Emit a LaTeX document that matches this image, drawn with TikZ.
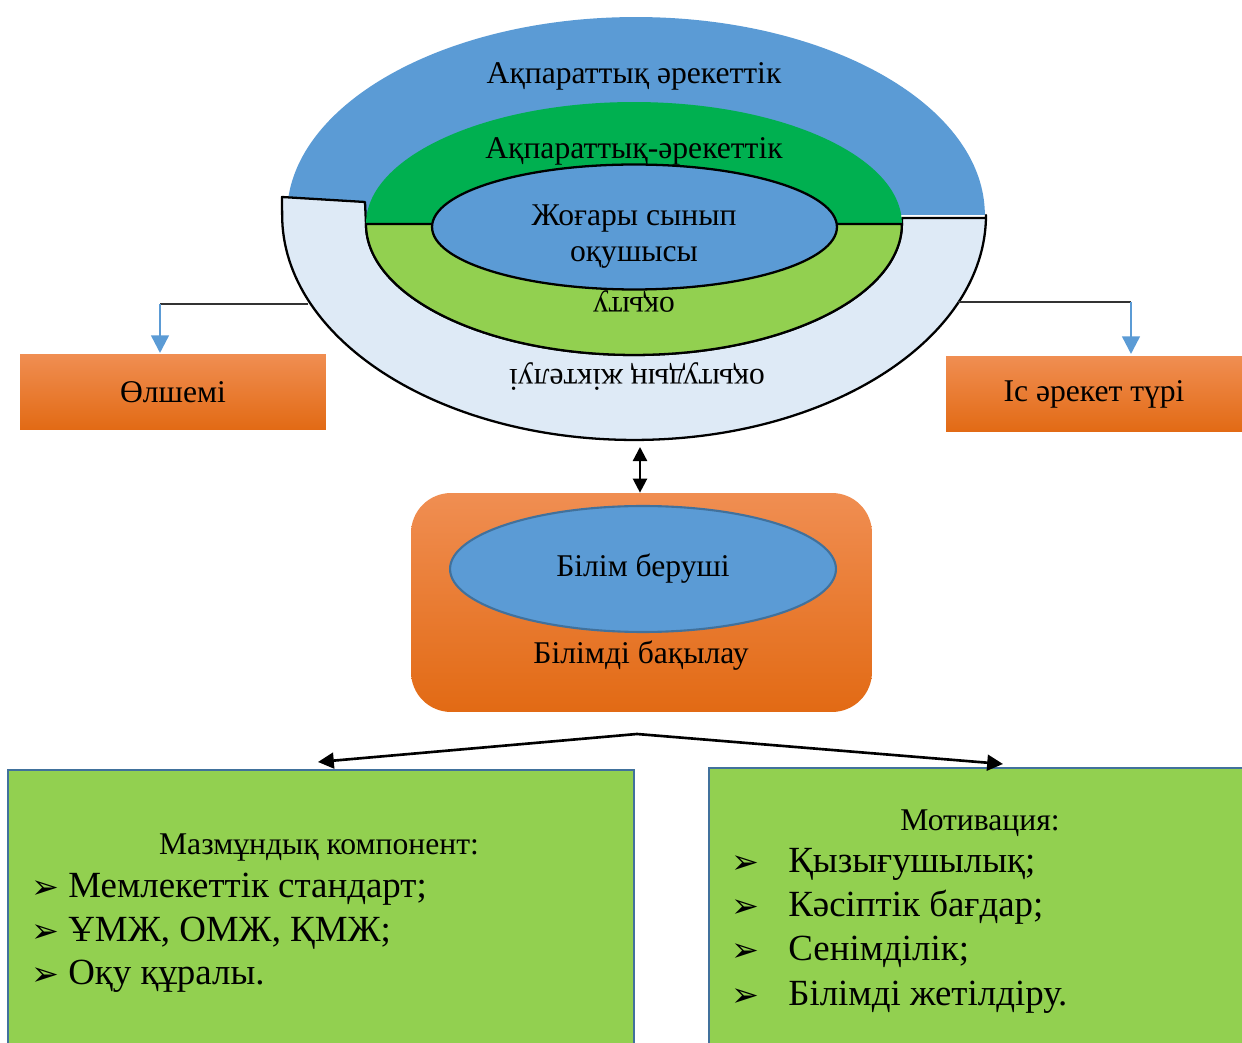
\documentclass[tikz,border=0pt]{standalone}
\usepackage{fontspec}
\setmainfont{Liberation Serif}
\newfontfamily\dvs{DejaVu Sans}
\usetikzlibrary{arrows.meta,shapes.geometric}
\definecolor{midblue}{RGB}{91,155,213}
\definecolor{paleblue}{RGB}{222,234,246}
\definecolor{dkgreen}{RGB}{0,176,80}
\definecolor{ltgreen}{RGB}{146,208,80}
\definecolor{edgeblue}{RGB}{65,113,156}
\definecolor{orTop}{RGB}{240,142,82}
\definecolor{orMid}{RGB}{244,125,40}
\definecolor{orBot}{RGB}{226,106,20}
\tikzset{
  outl/.style={draw=black,line width=1.3pt},
  txt/.style={inner sep=0pt,font=\fontsize{18}{21}\selectfont},
  big/.style={inner sep=0pt,font=\fontsize{21}{25}\selectfont},
  obox/.style={inner sep=0pt,minimum height=1.52cm,top color=orTop,middle color=orMid,bottom color=orBot,font=\fontsize{18}{21}\selectfont},
  gbox/.style={inner sep=0pt,fill=ltgreen},
  gedge/.style={draw=edgeblue,line width=1.3pt},
  bluearr/.style={draw=midblue,line width=1.4pt,-{Triangle[length=10pt,width=10pt]}},
  feed/.style={draw=black!80,line width=0.7pt},
  blkarr/.style={draw=black,line width=1.5pt,-{Triangle[length=9pt,width=9pt]}},
  bul/.style={inner sep=0pt,anchor=base west,font=\dvs\fontsize{19}{23}\selectfont},
}
\begin{document}
\begin{tikzpicture}[x=0.02cm,y=-0.02cm]
\useasboundingbox (0,0) rectangle (1242,1043);
% top blue half
\fill[midblue] (287,215) arc[start angle=180,end angle=0,x radius=6.98cm,y radius=3.96cm] -- cycle;
% pale lower shape
\path[fill=paleblue,outl,line join=round] (282,197) -- (365,202) -- (366,224)
  arc[start angle=180,end angle=360,x radius=5.36cm,y radius=2.62cm]
  -- (902,218) -- (986,218) -- (986,215)
  arc[start angle=0,end angle=-180,x radius=7.04cm,y radius=4.5cm] -- cycle;
% green rings
\fill[dkgreen] (366,224) arc[start angle=180,end angle=0,x radius=5.36cm,y radius=2.44cm] -- cycle;
\path[fill=ltgreen,outl] (366,224) arc[start angle=180,end angle=360,x radius=5.36cm,y radius=2.62cm] -- cycle;
% inner ellipse
\path[fill=midblue,outl] (634.5,227) ellipse[x radius=4.05cm,y radius=1.25cm];

\node[txt,anchor=base] (t1) at (634,84) {Ақпараттық әрекеттік};
\node[txt,anchor=base] (t2) at (634,159) {Ақпараттық-әрекеттік};
\node[txt,anchor=base] (t3) at (634,226) {Жоғары сынып};
\node[txt,anchor=base] (t4) at (634,262) {оқушысы};
\node[txt,rotate=180] (t5) at (634,302) {оқыту};
\node[txt,rotate=180] (t6) at (637,377) {оқытудың жіктелуі};

% side boxes
\node[obox,minimum width=6.12cm] (olsh) at (173,392) {Өлшемі};
\node[obox,minimum width=5.92cm] (ister) at (1094,394) {Іс әрекет түрі};
\coordinate (lstart) at (308,304);
\coordinate (lcorner) at (160,304);
\coordinate (lend) at (160,353);
\coordinate (rstart) at (958,302);
\coordinate (rcorner) at (1131,302);
\coordinate (rend) at (1131,354);
\draw[feed] (lstart) -- (lcorner);
\draw[bluearr] (lcorner) -- (lend);
\draw[feed] (rstart) -- (rcorner);
\draw[bluearr] (rcorner) -- (rend);

% central rounded box
\node[inner sep=0pt,minimum width=9.22cm,minimum height=4.38cm,rounded corners=0.8cm,
  top color=orTop,middle color=orMid,bottom color=orBot] (teach) at (641.5,602.5) {};
\node[ellipse,inner sep=0pt,minimum width=7.72cm,minimum height=2.52cm,fill=midblue,
  draw=edgeblue,line width=1.2pt] (ber) at (643,569) {};
\node[txt] at (ber.center) {Білім беруші};
\node[txt,anchor=base] (bak) at (641,664) {Білімді бақылау};
\coordinate (ringbot) at (640,447);
\draw[draw=black,line width=1.3pt,{Triangle[length=8pt,width=8pt]}-{Triangle[length=8pt,width=8pt]}] (ringbot) -- (teach.north -| ringbot);

% green boxes
\node[gbox,minimum width=12.52cm,minimum height=5.6cm] (lbox) at (321,910) {};
\node[gbox,minimum width=10.82cm,minimum height=5.64cm] (rbox) at (979.5,909) {};
\draw[gedge] (lbox.south west) -- (lbox.north west) -- (lbox.north east) -- (lbox.south east);
\draw[gedge] (rbox.south west) -- (rbox.north west) -- (rbox.north east);

\coordinate (peak) at (637,734);
\coordinate (la) at (318,762);
\coordinate (ra) at (1003,764);
\draw[blkarr] (peak) -- (la);
\draw[blkarr] (peak) -- (ra);

\node[txt,anchor=base] (h1) at (319,855) {Мазмұндық компонент:};
\node[bul] (b1) at (31,899) {➢};
\node[big,anchor=base west] (l1) at (68,898) {Мемлекеттік стандарт;};
\node[bul] (b2) at (31,943) {➢};
\node[big,anchor=base west] (l2) at (68,942) {ҰМЖ, ОМЖ, ҚМЖ;};
\node[bul] (b3) at (31,986) {➢};
\node[big,anchor=base west] (l3) at (68,985) {Оқу құралы.};

\node[txt,anchor=base] (h2) at (980,831) {Мотивация:};
\node[bul] (c1) at (731,874) {➢};
\node[big,anchor=base west] (m1) at (788,873) {Қызығушылық;};
\node[bul] (c2) at (731,918) {➢};
\node[big,anchor=base west] (m2) at (788,917) {Кәсіптік бағдар;};
\node[bul] (c3) at (731,962) {➢};
\node[big,anchor=base west] (m3) at (788,961) {Сенімділік;};
\node[bul] (c4) at (731,1007) {➢};
\node[big,anchor=base west] (m4) at (788,1006) {Білімді жетілдіру.};
\end{tikzpicture}
\end{document}
